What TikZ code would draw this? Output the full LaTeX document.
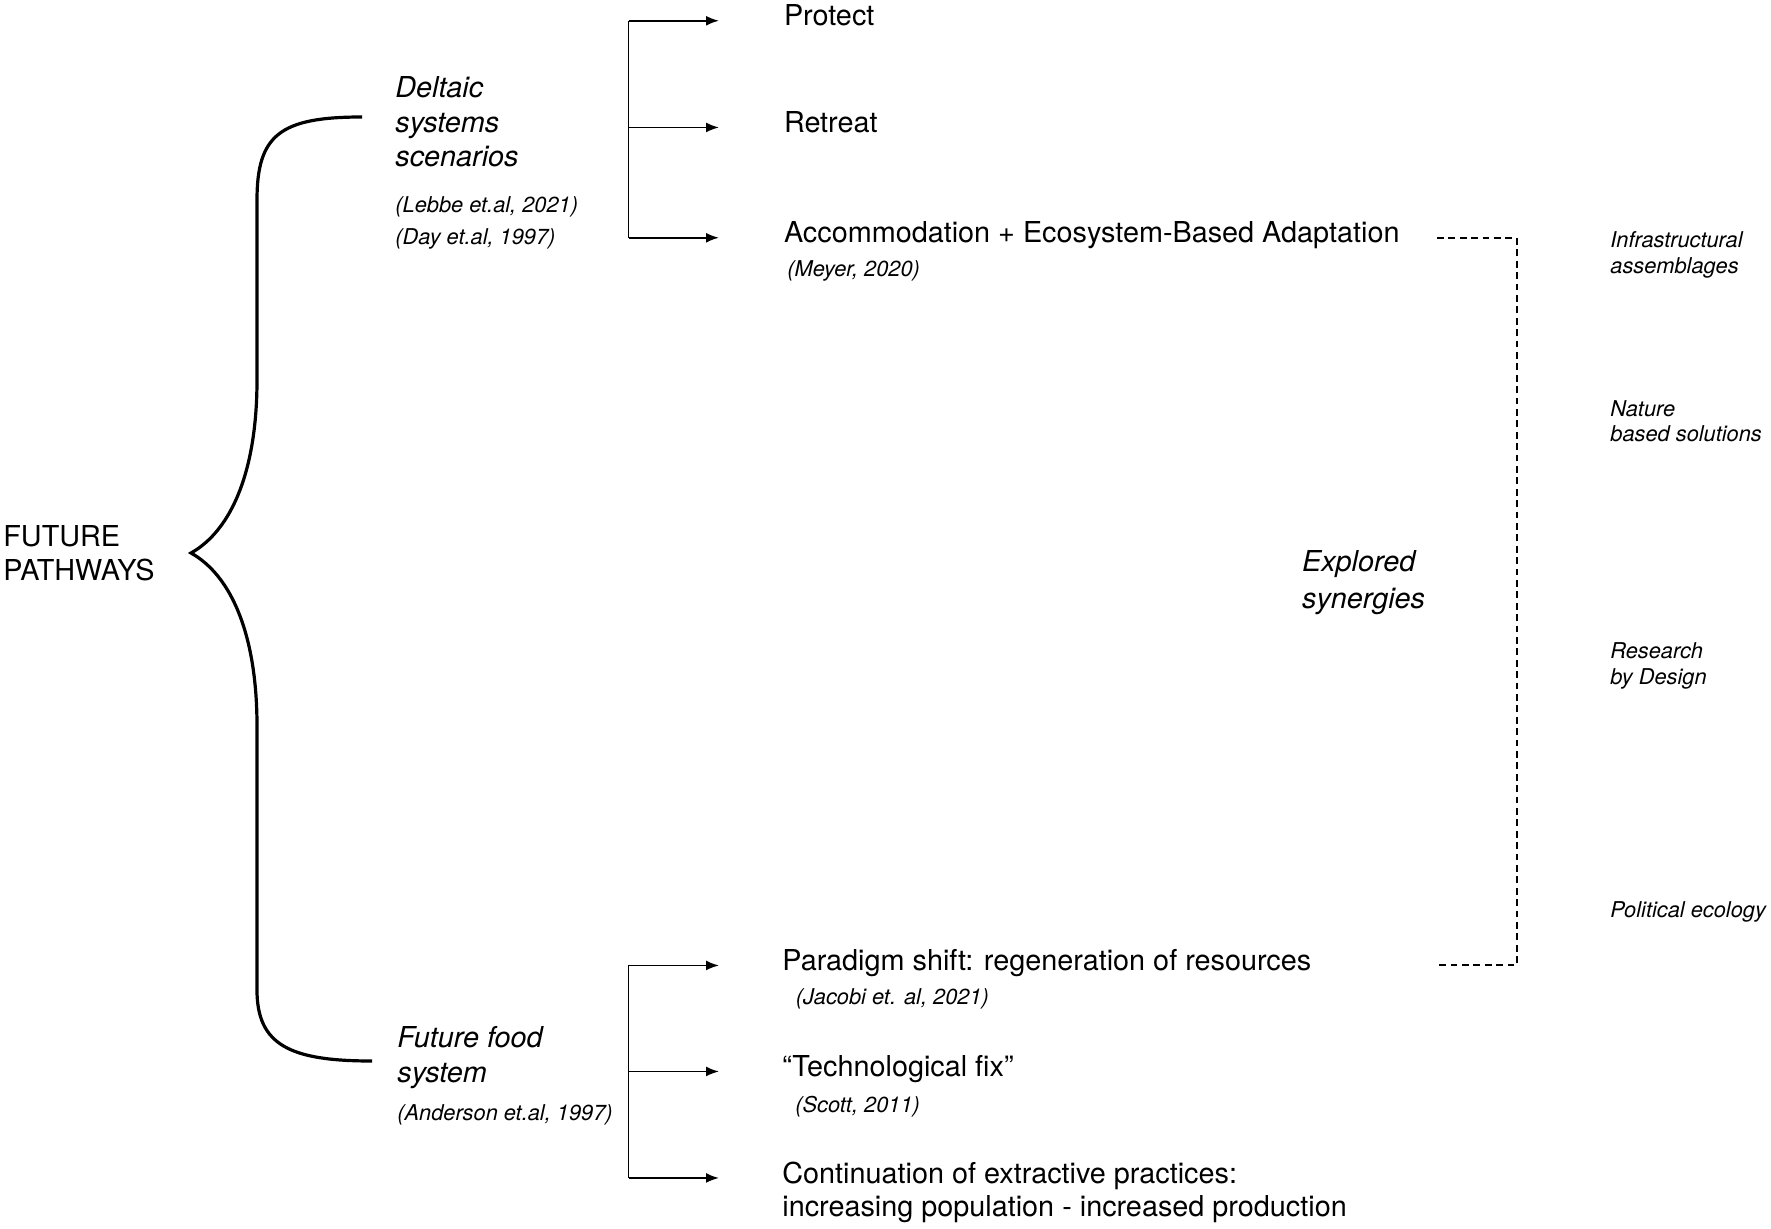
\documentclass[tikz,border=0pt]{standalone}
\usepackage{fontspec}
\setmainfont{TeX Gyre Heros}
\usetikzlibrary{arrows.meta}

\begin{document}
\begin{tikzpicture}[x=0.5pt, y=-0.5pt,
    txt/.style={anchor=base west, inner sep=0pt, align=left,
      font={\fontsize{14.4}{17.3}\selectfont}},
    scen/.style={txt, font={\fontsize{14.4}{17.2}\selectfont\itshape}},
    cite/.style={anchor=base west, inner sep=0pt, align=left,
      font={\fontsize{10.9}{16}\selectfont\itshape}},
    theme/.style={cite, font={\fontsize{10.9}{12.9}\selectfont\itshape}},
    fork/.style={line width=0.9pt}, brace/.style={line width=1.6pt},
    synline/.style={line width=1pt, dash pattern=on 3.4pt off 2.3pt},
    >={Latex[length=6.5pt,width=5pt]}]

  \useasboundingbox (0,0) rectangle (1771,1229);

  % left side (multi-line nodes sit on their last line)
  \node[txt, font={\fontsize{14.4}{16.7}\selectfont}] (future) at (3,580) {FUTURE\\PATHWAYS};
  \node[scen] (deltaic) at (395,166.7) {Deltaic\\systems\\scenarios};
  \node[cite] (deltaicref) at (395,245) {(Lebbe et.al, 2021)\\(Day et.al, 1997)};
  \node[scen, font={\fontsize{14.4}{17.5}\selectfont\itshape}] (food) at (397,1082.7) {Future food\\system};
  \node[cite] (foodref) at (397,1120) {(Anderson et.al, 1997)};

  % pathways
  \node[txt] (protect) at (783.6,26) {Protect};
  \node[txt] (retreat) at (783.6,132.7) {Retreat};
  \node[txt] (accom) at (783.6,243) {Accommodation + Ecosystem-Based Adaptation};
  \node[cite] (accomref) at (787,276.7) {(Meyer, 2020)};
  \node[txt] (paradigm) at (782,970.7) {Paradigm shift: regeneration of resources};
  \node[cite] (paradigmref) at (795.4,1004) {(Jacobi et. al, 2021)};
  \node[txt] (techfix) at (782,1076.7) {“Technological fix”};
  \node[cite] (techref) at (795,1112.3) {(Scott, 2011)};
  \node[txt, font={\fontsize{14.4}{16.4}\selectfont}] (extract) at (782,1216)
    {Continuation of extractive practices:\\increasing population - increased production};

  % synergies
  \node[scen, font={\fontsize{14.4}{18.3}\selectfont\itshape}] (synergy) at (1301.7,608.3) {Explored\\synergies};
  \node[theme] (infra) at (1610,273.3) {Infrastructural\\assemblages};
  \node[theme] (nbs) at (1610,442) {Nature\\based solutions};
  \node[theme] (rbd) at (1610,684) {Research\\by Design};
  \node[theme] (polecol) at (1610,917) {Political ecology};

  \coordinate (spine) at (628.5,0);
  \coordinate (dashx) at (1437,0);
  \coordinate (synx) at (1516.5,0);
  \coordinate (extractin) at ([yshift=16.4pt]extract.mid west);

  % brace
  \draw[brace] (362,117) .. controls (280,117) and (257,135) .. (257,200) -- (257,380)
    .. controls (257,470) and (232,530) .. (191,553)
    .. controls (232,576) and (257,636) .. (257,726) -- (257,990)
    .. controls (257,1045) and (290,1061) .. (372,1061);

  % forks
  \draw[fork] (spine |- protect.mid west) -- (spine |- accom.mid west);
  \foreach \n in {protect.mid west,retreat.mid west,accom.mid west}
    \draw[fork,->] (spine |- \n) -- ([xshift=-32.3pt]\n);
  \draw[fork] (spine |- paradigm.mid west) -- (spine |- extractin);
  \foreach \n in {paradigm.mid west,techfix.mid west,extractin}
    \draw[fork,->] (spine |- \n) -- ([xshift=-31.5pt]\n);

  \draw[synline] (dashx |- accom.mid west) -| (synx |- paradigm.mid west) -- (dashx |- paradigm.mid west);
\end{tikzpicture}
\end{document}
